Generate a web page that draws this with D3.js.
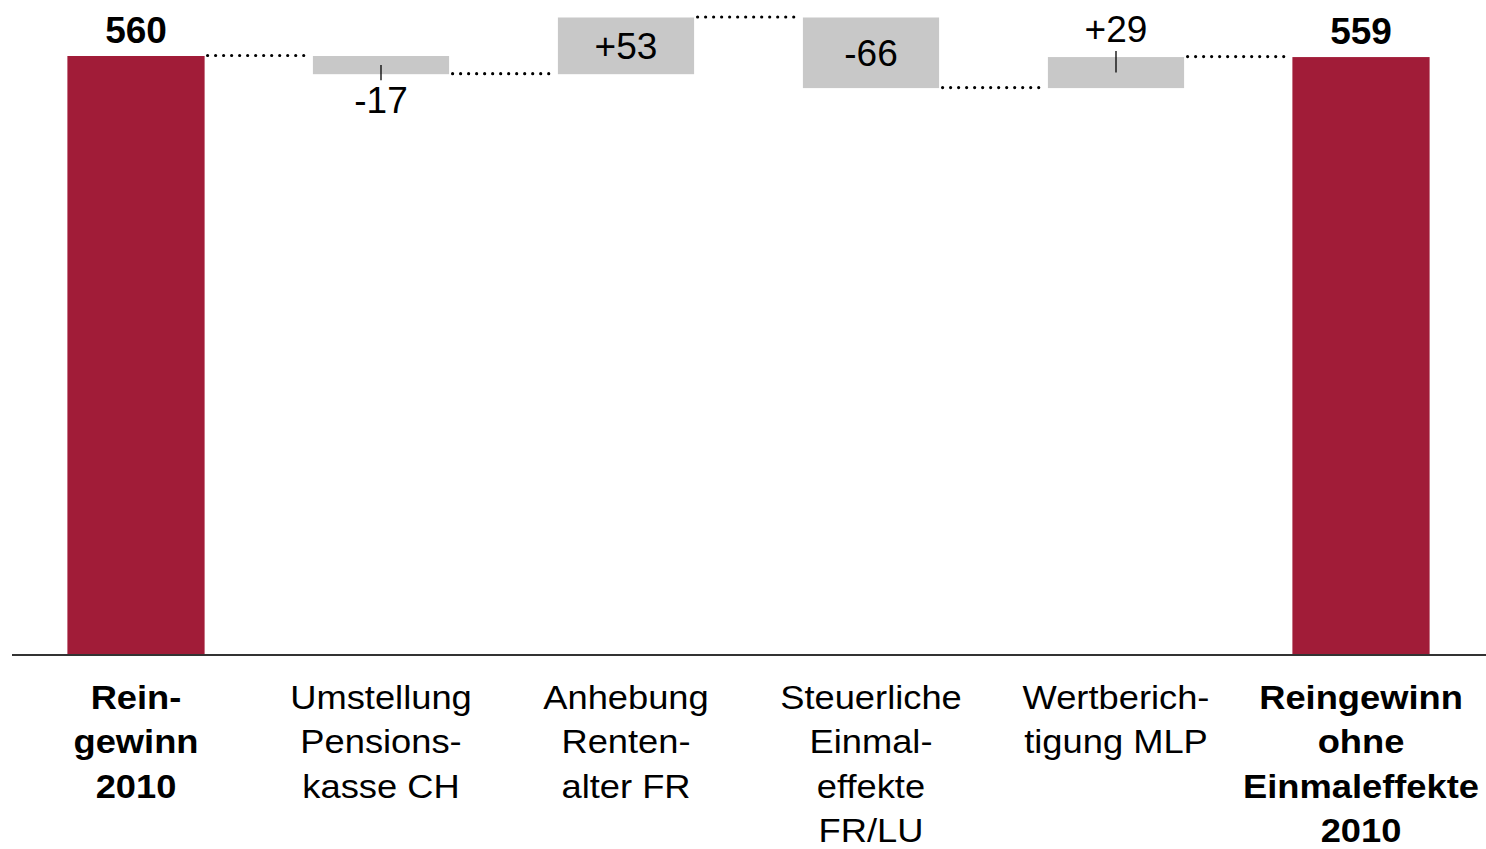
<!DOCTYPE html>
<html>
<head>
<meta charset="utf-8">
<script src="https://cdn.jsdelivr.net/npm/d3@7"></script>
<style>
  html, body { margin: 0; padding: 0; background: #fff; }
  svg { display: block; }
  text { font-family: "Liberation Sans", Arial, sans-serif; fill: #000; }
</style>
</head>
<body>
<svg id="chart" width="1486" height="849"></svg>
<script>
// Bridge of net profit 2010 (in EUR million)
const categories = [
  ["Rein-", "gewinn", "2010"],
  ["Umstellung", "Pensions-", "kasse CH"],
  ["Anhebung", "Renten-", "alter FR"],
  ["Steuerliche", "Einmal-", "effekte", "FR/LU"],
  ["Wertberich-", "tigung MLP"],
  ["Reingewinn", "ohne", "Einmaleffekte", "2010"]
];
const values = [560, -17, 53, -66, 29, 559];
const kinds = ["total", "delta", "delta", "delta", "delta", "total"];
const valueLabels = ["560", "-17", "+53", "-66", "+29", "559"];

const W = 1486, H = 849;
const baseY = 655;
const red = "#A11C38", grey = "#C8C8C8";

// running totals -> [from, to] for each step
let running = 0;
const steps = values.map((v, i) => {
  let from, to;
  if (kinds[i] === "total") { from = 0; to = v; running = v; }
  else { from = running; to = running + v; running = to; }
  return { i, cat: categories[i], value: v, kind: kinds[i], label: valueLabels[i], from, to };
});

const svg = d3.select("#chart");

const x = d3.scaleBand()
  .domain(d3.range(categories.length))
  .range([13.5, 1483.5])
  .paddingInner(0.44)
  .paddingOuter(0.22);

const y = d3.scaleLinear().domain([0, 560]).range([baseY, 56]);

// dotted connectors between consecutive bars
const conn = steps.slice(0, -1).map((d, k) => ({
  x1: x(k) + x.bandwidth(),
  x2: x(k + 1),
  level: d.to
}));
svg.append("g").selectAll("line").data(conn).join("line")
  .attr("x1", d => d.x1 + 3)
  .attr("x2", d => d.x2 - 1)
  .attr("y1", d => y(d.level) - 0.5)
  .attr("y2", d => y(d.level) - 0.5)
  .attr("stroke", "#000")
  .attr("stroke-width", 3.2)
  .attr("stroke-linecap", "round")
  .attr("stroke-dasharray", "0.01 8");

// bars
svg.append("g").selectAll("rect").data(steps).join("rect")
  .attr("x", d => x(d.i) + (d.kind === "total" ? 0 : 0.5))
  .attr("width", d => x.bandwidth() - (d.kind === "total" ? 0 : 1))
  .attr("y", d => y(Math.max(d.from, d.to)))
  .attr("height", d => Math.abs(y(d.from) - y(d.to)))
  .attr("fill", d => d.kind === "total" ? red : grey);

// baseline
svg.append("line")
  .attr("x1", 12).attr("x2", W)
  .attr("y1", baseY).attr("y2", baseY)
  .attr("stroke", "#333").attr("stroke-width", 2);

// value labels
const lbl = svg.append("g");
steps.forEach(d => {
  const cx = x(d.i) + x.bandwidth() / 2;
  const top = y(Math.max(d.from, d.to));
  const bot = y(Math.min(d.from, d.to));
  const h = bot - top;
  const t = lbl.append("text")
    .attr("x", cx)
    .attr("text-anchor", "middle")
    .style("font-size", "37px")
    .style("font-weight", d.kind === "total" ? "bold" : "normal")
    .text(d.label);
  if (d.kind === "total") {
    t.attr("y", top - 13);
  } else if (h > 40) {
    t.attr("y", (top + bot) / 2 + 13.5);
  } else if (d.value < 0) {
    lbl.append("line")
      .attr("x1", cx).attr("x2", cx)
      .attr("y1", (top + bot) / 2).attr("y2", bot + 6)
      .attr("stroke", "#000").attr("stroke-width", 1.3);
    t.attr("y", bot + 39);
  } else {
    lbl.append("line")
      .attr("x1", cx).attr("x2", cx)
      .attr("y1", top - 6).attr("y2", (top + bot) / 2)
      .attr("stroke", "#000").attr("stroke-width", 1.3);
    t.attr("y", top - 15);
  }
});

// category labels
const cg = svg.append("g");
steps.forEach(d => {
  const cx = x(d.i) + x.bandwidth() / 2;
  d.cat.forEach((line, j) => {
    cg.append("text")
      .attr("transform", `translate(${cx},${709 + j * 44.3}) scale(1.1,1)`)
      .attr("text-anchor", "middle")
      .style("font-size", "33px")
      .style("font-weight", d.kind === "total" ? "bold" : "normal")
      .text(line);
  });
});
</script>
</body>
</html>
